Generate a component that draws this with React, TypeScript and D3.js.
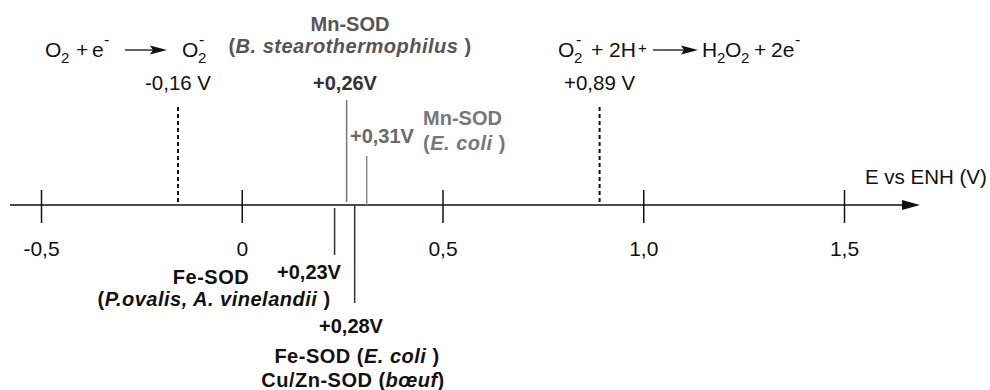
import React from "react";
import * as d3 from "d3";

// ---- data ----
const tickValues = [-0.5, 0, 0.5, 1.0, 1.5];
const tickLabels = ["-0,5", "0", "0,5", "1,0", "1,5"];
const axisTitle = "E vs ENH (V)";

const refPotentials = [-0.16, 0.89];
const refLabels = ["-0,16 V", "+0,89 V"];

const sodPotentials = [0.26, 0.31, 0.23, 0.28];
const sodLabels = ["+0,26V", "+0,31V", "+0,23V", "+0,28V"];

// ---- layout ----
const W = 990;
const H = 390;
const AXIS_Y = 205;
const FONT = "'Liberation Sans', Arial, Helvetica, sans-serif";

const x = d3.scaleLinear().domain([-0.5, 1.5]).range([41.5, 844.5]);

type Piece = { t: string; k: "n" | "sub" | "sup"; x: number };

const leftReaction: Piece[] = [
  { t: "O", k: "n", x: 45 },
  { t: "2", k: "sub", x: 61 },
  { t: "+", k: "n", x: 76 },
  { t: "e", k: "n", x: 92 },
  { t: "-", k: "sup", x: 104 },
  { t: "O", k: "n", x: 182 },
  { t: "2", k: "sub", x: 198 },
  { t: "-", k: "sup", x: 199 },
];
const rightReaction: Piece[] = [
  { t: "O", k: "n", x: 558 },
  { t: "2", k: "sub", x: 574 },
  { t: "-", k: "sup", x: 576 },
  { t: "+", k: "n", x: 591 },
  { t: "2H", k: "n", x: 609 },
  { t: "+", k: "sup", x: 638 },
  { t: "H", k: "n", x: 702 },
  { t: "2", k: "sub", x: 717 },
  { t: "O", k: "n", x: 725 },
  { t: "2", k: "sub", x: 741 },
  { t: "+", k: "n", x: 754 },
  { t: "2e", k: "n", x: 771 },
  { t: "-", k: "sup", x: 795 },
];

function Reaction({ pieces, y }: { pieces: Piece[]; y: number }) {
  return (
    <g fontFamily={FONT} fill="#111">
      {pieces.map((p, i) => {
        const fs = p.k === "n" ? 21 : p.t === "-" ? 16 : 15;
        let yy = y;
        if (p.k === "sub") yy = y + 6;
        if (p.k === "sup") yy = p.t === "+" ? y - 4 : y - 12;
        return (
          <text key={i} x={p.x} y={yy} fontSize={fs}>
            {p.t}
          </text>
        );
      })}
    </g>
  );
}

function Arrow({ x1, x2, y }: { x1: number; x2: number; y: number }) {
  return (
    <g>
      <line x1={x1} x2={x2 - 14} y1={y} y2={y} stroke="#111" strokeWidth={1.3} />
      <path d={`M${x2 - 17},${y - 4.5} L${x2},${y} L${x2 - 17},${y + 4.5} L${x2 - 14},${y} Z`} fill="#111" />
    </g>
  );
}

export default function App() {
  const xs = sodPotentials.map((v) => x(v));
  return (
    <svg
      width={W}
      height={H}
      style={{ position: "absolute", left: 0, top: 0, background: "#fff" }}
      fontFamily={FONT}
    >
      <rect width={W} height={H} fill="#fff" />

      {/* axis */}
      <line x1={10} x2={906} y1={AXIS_Y} y2={AXIS_Y} stroke="#111" strokeWidth={1.5} />
      <path d={`M902,${AXIS_Y - 5} L920,${AXIS_Y} L902,${AXIS_Y + 5} Z`} fill="#111" />
      {tickValues.map((v, i) => (
        <g key={i}>
          <line x1={x(v)} x2={x(v)} y1={190} y2={223} stroke="#111" strokeWidth={1.5} />
          <text x={x(v)} y={256} textAnchor="middle" fontSize={21} fill="#111">
            {tickLabels[i]}
          </text>
        </g>
      ))}
      <text x={865} y={184} fontSize={20.5} fill="#111">
        {axisTitle}
      </text>

      {/* reference potentials (dashed) */}
      {refPotentials.map((v, i) => (
        <g key={i}>
          <line
            x1={x(v)}
            x2={x(v)}
            y1={107}
            y2={AXIS_Y}
            stroke="#111"
            strokeWidth={2}
            strokeDasharray="4,3"
          />
          <text x={x(v)} y={90} textAnchor="middle" fontSize={20.5} fill="#111">
            {refLabels[i]}
          </text>
        </g>
      ))}

      {/* reactions */}
      <Reaction pieces={leftReaction} y={57} />
      <Arrow x1={125} x2={167} y={50} />
      <Reaction pieces={rightReaction} y={57} />
      <Arrow x1={653} x2={698} y={50} />

      {/* Mn-SOD B. stearothermophilus */}
      <text x={350} y={31} textAnchor="middle" fontSize={20} fontWeight="bold" fill="#555">
        Mn-SOD
      </text>
      <text x={350} y={53} textAnchor="middle" fontSize={20} fontWeight="bold" fill="#555" letterSpacing={0.5}>
        <tspan>(</tspan>
        <tspan fontStyle="italic">B. stearothermophilus</tspan>
        <tspan> )</tspan>
      </text>
      <text x={345} y={90} textAnchor="middle" fontSize={20} fontWeight="bold" fill="#333">
        {sodLabels[0]}
      </text>
      <line x1={xs[0]} x2={xs[0]} y1={100} y2={202} stroke="#777" strokeWidth={1.5} />

      {/* Mn-SOD E. coli */}
      <text x={350} y={143} fontSize={20} fontWeight="bold" fill="#6a6a6a">
        {sodLabels[1]}
      </text>
      <text x={423} y={125} fontSize={20} fontWeight="bold" fill="#777">
        Mn-SOD
      </text>
      <text x={423} y={150} fontSize={20} fontWeight="bold" fill="#777" letterSpacing={0.5}>
        <tspan>(</tspan>
        <tspan fontStyle="italic">E. coli</tspan>
        <tspan> )</tspan>
      </text>
      <line x1={xs[1]} x2={xs[1]} y1={156} y2={AXIS_Y} stroke="#888" strokeWidth={1.5} />

      {/* Fe-SOD P. ovalis, A. vinelandii */}
      <line x1={xs[2]} x2={xs[2]} y1={208} y2={255} stroke="#333" strokeWidth={1.5} />
      <text x={309} y={279} textAnchor="middle" fontSize={20} fontWeight="bold" fill="#111">
        {sodLabels[2]}
      </text>
      <text x={211} y={284} textAnchor="middle" fontSize={20} fontWeight="bold" fill="#111" letterSpacing={0.5}>
        Fe-SOD
      </text>
      <text x={214} y={306} textAnchor="middle" fontSize={20} fontWeight="bold" fill="#111" letterSpacing={0.5}>
        <tspan>(</tspan>
        <tspan fontStyle="italic">P.ovalis, A. vinelandii</tspan>
        <tspan> )</tspan>
      </text>

      {/* Fe-SOD E. coli / Cu/Zn-SOD */}
      <line x1={xs[3]} x2={xs[3]} y1={AXIS_Y} y2={303} stroke="#333" strokeWidth={1.5} />
      <text x={351} y={333} textAnchor="middle" fontSize={20} fontWeight="bold" fill="#111">
        {sodLabels[3]}
      </text>
      <text x={357} y={363} textAnchor="middle" fontSize={20} fontWeight="bold" fill="#111" letterSpacing={0.5}>
        <tspan>Fe-SOD (</tspan>
        <tspan fontStyle="italic">E. coli</tspan>
        <tspan> )</tspan>
      </text>
      <text x={353} y={387} textAnchor="middle" fontSize={20} fontWeight="bold" fill="#111" letterSpacing={0.5}>
        <tspan>Cu/Zn-SOD (</tspan>
        <tspan fontStyle="italic">bœuf</tspan>
        <tspan>)</tspan>
      </text>
    </svg>
  );
}
